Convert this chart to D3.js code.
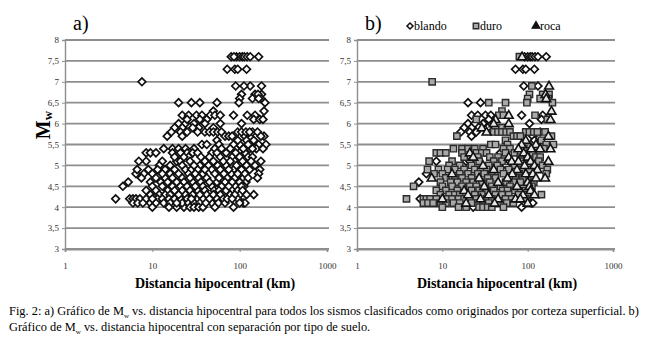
<!DOCTYPE html>
<html>
<head>
<meta charset="utf-8">
<script src="https://d3js.org/d3.v7.min.js"></script>
<style>
  body { margin: 0; background: #fff; }
</style>
</head>
<body>
<script>
// [distancia hipocentral (km), Mw]
const blando = [
  [92,7.6],[100,7.6],[107,7.6],[113,7.6],[122,7.6],[132,7.6],[165,7.6],
  [72,7.3],[88,7.3],[95,7.3],[120,7.3],
  [90,6.9],[132,6.9],
  [20,6.5],[28,6.5],
  [22,6.2],[26,6.2],[32,6.2],[37,6.2],[85,6.2],[150,6.2],
  [35,6.1],[145,6.1],
  [20,6.0],[24,6.0],[30,6.0],[105,6.0],
  [18,5.9],[22,5.9],[34,5.9],
  [16.5,5.8],[21,5.8],[25,5.8],[140,5.8],
  [22,5.7],[115,5.7],[120,5.6],[48,5.3],
  [8.5,5.1],[19,5.1],[21,5.1],[56,5.0],
  [6.5,4.8],[5.3,4.6],[90,4.5],[5.5,4.2],
  [110,4.1],[115,4.1],[23,4.0],[85,4.0]
];
const duro = [
  [80,7.6],[7.6,7.0],[112,6.9],[105,6.7],[150,6.7],[178,6.7],[100,6.6],[140,6.6],[175,6.6],
  [35,6.5],[55,6.5],[98,6.5],[195,6.5],[50,6.3],
  [46,6.2],[52,6.2],[122,6.2],[25,6.1],[170,6.1],[50,5.9],
  [40,5.8],[45,5.8],[50,5.8],[56,5.8],[62,5.8],[95,5.8],[105,5.8],[118,5.8],[130,5.8],[160,5.8],
  [14.8,5.7],[68,5.7],[75,5.7],[82,5.7],[190,5.7],
  [55,5.6],[145,5.6],
  [37,5.5],[42,5.5],[58,5.5],[100,5.5],[165,5.5],[200,5.5],
  [13.5,5.4],[17,5.4],[20,5.4],[24,5.4],[30,5.4],[52,5.4],[62,5.4],[90,5.4],[130,5.4],[155,5.4],
  [8.5,5.3],[9.5,5.3],[11,5.3],[17,5.3],[25,5.3],[29,5.3],[33,5.3],[55,5.3],[70,5.3],[115,5.3],
  [18,5.2],[26,5.2],[36,5.2],[45,5.2],[82,5.2],[125,5.2],[140,5.2],
  [7,5.1],[13,5.1],[27,5.1],[40,5.1],[50,5.1],[88,5.1],[135,5.1],
  [12,5.0],[16,5.0],[22,5.0],[35,5.0],[44,5.0],[70,5.0],[100,5.0],[150,5.0],
  [6.7,4.9],[9,4.9],[11.5,4.9],[14,4.9],[18,4.9],[24,4.9],[28,4.9],[33,4.9],[48,4.9],[60,4.9],[85,4.9],[105,4.9],[170,4.9],
  [8,4.8],[10,4.8],[16,4.8],[20,4.8],[26,4.8],[31,4.8],[38,4.8],[52,4.8],[80,4.8],[165,4.8],
  [11,4.7],[14,4.7],[17,4.7],[22,4.7],[34,4.7],[42,4.7],[72,4.7],[88,4.7],[110,4.7],
  [9.5,4.6],[12.5,4.6],[15,4.6],[19,4.6],[23,4.6],[29,4.6],[36,4.6],[55,4.6],[68,4.6],[82,4.6],[118,4.6],
  [4.6,4.5],[10,4.5],[13,4.5],[17,4.5],[21,4.5],[25,4.5],[38,4.5],[48,4.5],[62,4.5],[112,4.5],
  [8.5,4.4],[11,4.4],[15,4.4],[22,4.4],[27,4.4],[33,4.4],[40,4.4],[51,4.4],[58,4.4],[70,4.4],[95,4.4],
  [9.5,4.3],[12,4.3],[14,4.3],[16,4.3],[24,4.3],[29,4.3],[42,4.3],[50,4.3],[60,4.3],[78,4.3],[100,4.3],[145,4.3],
  [3.8,4.2],[6,4.2],[6.5,4.2],[7.2,4.2],[8.5,4.2],[11.5,4.2],[13,4.2],[15.5,4.2],[18,4.2],[21,4.2],[25,4.2],[33,4.2],[38,4.2],[55,4.2],[65,4.2],[95,4.2],
  [6,4.1],[6.8,4.1],[7.8,4.1],[9.5,4.1],[11,4.1],[13.5,4.1],[16,4.1],[22,4.1],[26,4.1],[30,4.1],[35,4.1],[48,4.1],[57,4.1],[68,4.1],
  [10,4.0],[15.5,4.0],[19,4.0],[27,4.0],[30,4.0],[34,4.0],[38,4.0],[52,4.0]
];
const roca = [
  [86,7.6],[178,6.9],[162,6.7],[165,6.6],[190,6.3],[60,6.2],[42,6.1],[185,6.1],[40,6.0],[60,6.0],
  [29,5.9],[33,5.8],[175,5.7],[95,5.6],[85,5.5],[125,5.5],
  [78,5.4],[110,5.4],[140,5.4],[185,5.4],[21,5.3],[90,5.3],[23,5.2],[60,5.2],[100,5.2],
  [65,5.1],[78,5.1],[108,5.1],[175,5.1],[30,5.0],[92,5.0],[120,5.0],
  [40,4.9],[75,4.9],[130,4.9],[13,4.8],[66,4.8],[95,4.8],[115,4.8],
  [7.5,4.7],[27,4.7],[58,4.7],[125,4.7],[160,4.7],[45,4.6],[100,4.6],
  [31,4.5],[75,4.5],[105,4.5],[18,4.4],[108,4.4],[20,4.3],[35,4.3],[88,4.3],[120,4.3],
  [10,4.2],[28,4.2],[45,4.2],[72,4.2],[82,4.2],[19,4.1],[41,4.1],[100,4.1]
];
const xTicks = [1, 10, 100, 1000];
const yTicks = [3, 3.5, 4, 4.5, 5, 5.5, 6, 6.5, 7, 7.5, 8];
const legendNames = ["blando", "duro", "roca"];

const serif = "'Liberation Serif'";

let width = 650, height = 340;
let svg = d3.select("body").append("svg")
    .attr("width", width)
    .attr("height", height)
    .style("font-family", serif);

let fmt = d => String(d).replace(".", ",");

let diamond = d3.symbol().type(d3.symbolSquare).size(30);
let square = d3.symbol().type(d3.symbolSquare).size(40);
let triangle = d3.symbol().type(d3.symbolTriangle).size(34);

function drawMarks(g, data, kind, x, y) {
    let sel = g.append("g").selectAll("path")
        .data(data)
        .join("path")
        .attr("stroke-linejoin", "miter");
    if (kind == "blando") {
        sel.attr("d", diamond)
            .attr("transform", d => `translate(${x(d[0])},${y(d[1])}) rotate(45)`)
            .attr("fill", "#fff").attr("stroke", "#111").attr("stroke-width", 1.7);
    } else if (kind == "duro") {
        sel.attr("d", square)
            .attr("transform", d => `translate(${x(d[0])},${y(d[1])})`)
            .attr("fill", "#a9a9a9").attr("stroke", "#2b2b2b").attr("stroke-width", 1.4);
    } else {
        sel.attr("d", triangle)
            .attr("transform", d => `translate(${x(d[0])},${y(d[1]) + 0.5})`)
            .attr("fill", "#e8e8e8").attr("stroke", "#111").attr("stroke-width", 1.6);
    }
}

function panel(x0, x1, label, series, titleX) {
    let g = svg.append("g");
    let x = d3.scaleLog().domain([1, 1000]).range([x0, x1]);
    let y = d3.scaleLinear().domain([3, 8]).range([249, 40]);

    // horizontal gridlines
    g.append("g").selectAll("line")
        .data(yTicks)
        .join("line")
        .attr("x1", x0).attr("x2", x1 + 2)
        .attr("y1", d => y(d)).attr("y2", d => y(d))
        .attr("stroke", "#8e8e8e")
        .attr("stroke-width", 1.8);

    let ya = g.append("g")
        .attr("transform", `translate(${x0},0)`)
        .call(d3.axisLeft(y).tickValues(yTicks).tickFormat(fmt).tickSize(3).tickPadding(3));
    ya.attr("font-family", serif);
    ya.select(".domain").attr("stroke", "#8e8e8e").attr("stroke-width", 1.4);
    ya.selectAll(".tick line").attr("stroke", "#8e8e8e");
    ya.selectAll("text").style("font-size", "9px").attr("fill", "#333");

    let xa = g.append("g")
        .attr("transform", `translate(0,${y(3)})`)
        .call(d3.axisBottom(x).tickValues(xTicks).tickFormat(d3.format("d")).tickSize(3).tickPadding(11));
    xa.attr("font-family", serif);
    xa.select(".domain").attr("stroke", "#8e8e8e").attr("stroke-width", 1.8);
    xa.selectAll(".tick line").attr("stroke", "#8e8e8e");
    xa.selectAll("text").style("font-size", "9px").attr("fill", "#333");

    series.forEach(s => drawMarks(g, s.data, s.kind, x, y));

    svg.append("text")
        .attr("x", titleX)
        .attr("y", 288)
        .attr("text-anchor", "middle")
        .style("font-size", "14px")
        .style("font-weight", "bold")
        .text("Distancia hipocentral (km)");

    svg.append("text")
        .attr("x", x0 + 8)
        .attr("y", 30)
        .style("font-size", "20px")
        .text(label);
}

panel(65, 327, "a)", [{kind: "blando", data: blando.concat(duro, roca)}], 215);
panel(357, 613, "b)", [
    {kind: "blando", data: blando},
    {kind: "duro", data: duro},
    {kind: "roca", data: roca}
], 497);

// y title
let mw = svg.append("text")
    .attr("transform", "translate(50,125) rotate(-90)")
    .attr("text-anchor", "middle")
    .style("font-weight", "bold")
    .style("font-size", "20px");
mw.append("tspan").text("M");
mw.append("tspan").attr("dy", 2).style("font-size", "13px").text("w");

// legend
let legX = [410, 476, 536];
let leg = svg.append("g");
legendNames.forEach((n, i) => {
    let lx = legX[i], ly = 26;
    let p = leg.append("path").attr("stroke-linejoin", "miter");
    if (n == "blando") p.attr("d", d3.symbol().type(d3.symbolSquare).size(18)()).attr("transform", `translate(${lx},${ly}) rotate(45)`).attr("fill", "#fff").attr("stroke", "#111").attr("stroke-width", 1.5);
    else if (n == "duro") p.attr("d", d3.symbol().type(d3.symbolSquare).size(30)()).attr("transform", `translate(${lx},${ly})`).attr("fill", "#a9a9a9").attr("stroke", "#2b2b2b").attr("stroke-width", 1.4);
    else p.attr("d", d3.symbol().type(d3.symbolTriangle).size(26)()).attr("transform", `translate(${lx},${ly})`).attr("fill", "#111").attr("stroke", "#111").attr("stroke-width", 1.2);
    leg.append("text").attr("x", lx + 4).attr("y", ly + 4).style("font-size", "12px").text(n);
});

// caption
let cap1 = svg.append("text").attr("x", 9).attr("y", 315).style("font-size", "12.4px");
cap1.append("tspan").text("Fig. 2: a) Gráfico de M");
cap1.append("tspan").attr("dy", 3).style("font-size", "7px").text("w");
cap1.append("tspan").attr("dy", -3).text(" vs. distancia hipocentral para todos los sismos clasificados como originados por corteza superficial. b)");
let cap2 = svg.append("text").attr("x", 9).attr("y", 331).style("font-size", "12.4px");
cap2.append("tspan").text("Gráfico de M");
cap2.append("tspan").attr("dy", 3).style("font-size", "7px").text("w");
cap2.append("tspan").attr("dy", -3).text(" vs. distancia hipocentral con separación por tipo de suelo.");
</script>
</body>
</html>
